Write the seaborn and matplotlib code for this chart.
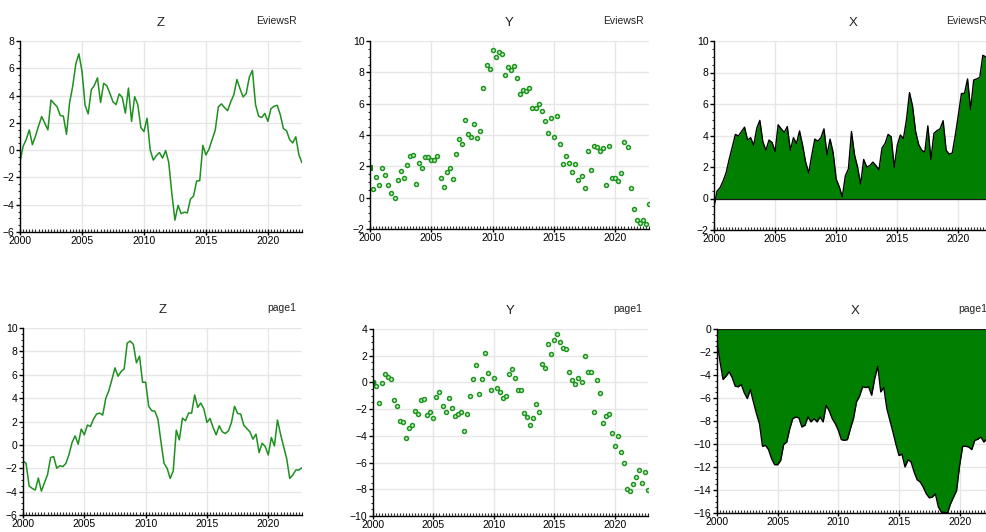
import numpy as np
import pandas as pd
import matplotlib
matplotlib.use('Agg')
import matplotlib.pyplot as plt
from matplotlib.ticker import MultipleLocator
import seaborn as sns

# quarterly index 2000Q1 .. 2022Q4
quarters = pd.period_range('2000Q1', '2022Q4', freq='Q')
t = np.asarray(quarters.year + (quarters.quarter - 1) / 4, dtype=float)

z_eviews = [-0.85, 0.28, 0.78, 1.48, 0.40, 1.03, 1.78, 2.46, 1.98, 1.48, 3.67, 3.42,
            3.17, 2.54, 2.49, 1.16, 3.47, 4.67, 6.30, 7.06, 5.80, 3.29, 2.66, 4.42,
            4.75, 5.30, 3.49, 4.90, 4.72, 4.17, 3.54, 3.34, 4.12, 3.87, 2.71, 4.55,
            2.11, 3.92, 3.34, 1.66, 1.36, 2.34, 0.03, -0.73, -0.40, -0.18, -0.58, -0.03,
            -0.90, -3.19, -5.13, -4.05, -4.65, -4.55, -4.60, -3.59, -3.37, -2.26, -2.24, 0.35,
            -0.35, 0.08, 0.78, 1.46, 3.17, 3.39, 3.12, 2.89, 3.54, 4.05, 5.18, 4.50,
            3.90, 4.15, 5.35, 5.85, 3.34, 2.49, 2.39, 2.69, 2.11, 3.04, 3.22, 3.29,
            2.59, 1.58, 1.43, 0.78, 0.53, 0.98, -0.35, -0.93]

y_eviews = [1.91, 0.54, 1.35, 0.84, 1.87, 1.44, 0.80, 0.30, 0.00, 1.10, 1.68, 1.23,
            2.09, 2.65, 2.73, 0.88, 2.19, 1.87, 2.60, 2.60, 2.39, 2.39, 2.67, 1.23,
            0.65, 1.63, 1.91, 1.16, 2.77, 3.76, 3.42, 4.95, 4.06, 3.89, 4.71, 3.83,
            4.24, 7.03, 8.45, 8.19, 9.44, 8.99, 9.29, 9.20, 7.83, 8.34, 8.15, 8.41,
            7.63, 6.60, 6.90, 6.82, 6.99, 5.72, 5.72, 5.96, 5.53, 4.92, 4.13, 5.10,
            3.87, 5.20, 3.42, 2.13, 2.65, 2.19, 1.66, 2.15, 1.14, 1.38, 0.62, 2.99,
            1.78, 3.31, 3.25, 2.97, 3.18, 0.82, 3.31, 1.23, 1.23, 1.08, 1.59, 3.55,
            3.25, 0.60, -0.71, -1.40, -1.59, -1.40, -1.68, -0.43]

x_eviews = [-0.50, 0.47, 0.69, 1.12, 1.66, 2.52, 3.28, 4.07, 3.97, 4.25, 4.53, 3.71,
            3.86, 3.38, 4.46, 4.96, 3.60, 3.06, 3.71, 3.56, 3.00, 4.68, 4.42, 4.20,
            4.57, 3.06, 3.86, 3.49, 4.29, 3.38, 2.31, 1.62, 2.74, 3.77, 3.64, 3.86,
            4.42, 2.78, 3.77, 2.91, 1.23, 0.75, 0.11, 1.44, 1.88, 4.25, 2.78, 1.98,
            0.91, 2.48, 2.00, 2.09, 2.31, 2.09, 1.83, 3.21, 3.49, 4.07, 3.92, 1.98,
            3.38, 4.03, 3.81, 5.00, 6.72, 5.86, 4.25, 3.43, 3.06, 2.95, 4.61, 2.48,
            4.14, 4.31, 4.42, 4.94, 3.06, 2.82, 2.89, 4.03, 5.32, 6.66, 6.68, 7.59,
            5.65, 7.52, 7.59, 7.69, 9.09, 8.99, 8.80, 8.50]

z_page1 = [-1.38, -1.58, -3.52, -3.72, -3.87, -2.84, -3.95, -3.24, -2.55, -1.09, -1.00, -2.00,
           -1.78, -1.86, -1.58, -0.83, 0.20, 0.77, 0.06, 1.35, 0.86, 1.69, 1.58, 2.21,
           2.64, 2.72, 2.55, 3.98, 4.64, 5.59, 6.59, 5.87, 6.28, 6.50, 8.71, 8.88,
           8.60, 7.02, 7.59, 5.36, 5.36, 3.30, 2.92, 2.89, 2.21, 0.26, -1.58, -2.00,
           -2.87, -2.24, 1.26, 0.43, 2.29, 2.06, 2.72, 2.72, 4.27, 3.21, 3.58, 3.07,
           1.92, 2.26, 1.49, 0.86, 1.63, 1.12, 0.97, 1.20, 1.92, 3.30, 2.69, 2.64,
           1.69, 1.40, 1.12, 0.49, 0.92, -0.66, 0.14, -0.14, -0.86, 0.63, -0.09, 2.12,
           0.92, -0.14, -1.17, -2.87, -2.58, -2.15, -2.15, -1.95]

y_page1 = [0.05, -0.25, -1.55, -0.05, 0.63, 0.40, 0.25, -1.35, -1.80, -2.88, -2.93, -4.15,
           -3.43, -3.15, -2.13, -2.33, -1.35, -1.25, -2.43, -2.25, -2.70, -1.10, -0.68, -1.73,
           -2.25, -1.13, -1.88, -2.55, -2.33, -2.25, -3.63, -2.38, -1.03, 0.25, 1.28, -0.83,
           0.23, 2.20, 0.73, -0.60, 0.35, -0.45, -0.75, -1.13, -0.98, 0.60, 0.98, 0.35,
           -0.55, -0.55, -2.28, -2.60, -3.15, -2.63, -1.60, -2.18, 1.35, 1.10, 2.85, 2.15,
           3.18, 3.65, 3.00, 2.55, 2.48, 0.75, 0.15, -0.15, 0.35, 0.03, 1.95, 0.75,
           0.75, -2.18, 0.15, -0.80, -3.00, -2.50, -2.35, -3.78, -4.78, -4.00, -5.20, -6.03,
           -8.00, -8.13, -7.63, -7.10, -6.55, -7.55, -6.68, -8.05]

x_page1 = [-1.10, -2.85, -4.39, -4.10, -3.72, -4.22, -4.97, -5.03, -4.83, -5.55, -6.05, -5.26,
           -6.34, -7.35, -8.23, -10.20, -10.12, -10.49, -11.28, -11.80, -11.80, -11.43, -10.03, -9.83,
           -8.66, -7.79, -7.65, -7.73, -8.52, -8.37, -7.65, -8.08, -7.79, -8.08, -7.65, -8.08,
           -6.63, -7.12, -7.79, -8.23, -8.81, -9.62, -9.68, -9.62, -8.66, -7.79, -6.34, -5.84,
           -5.03, -5.09, -5.03, -5.76, -4.30, -3.23, -5.47, -5.09, -6.92, -7.94, -8.95, -10.03,
           -10.99, -10.90, -12.00, -11.37, -11.57, -12.44, -13.11, -13.31, -13.75, -14.33, -14.68, -14.62,
           -14.33, -15.49, -15.93, -15.93, -16.00, -15.20, -14.62, -14.04, -11.86, -10.20, -10.20, -10.26,
           -10.49, -9.68, -9.59, -9.39, -9.83, -9.54, -9.30, -9.20]

titles = ['Z', 'Y', 'X']
sources = ['EviewsR', 'page1']
ylims = [[(-6, 8), (-2, 10), (-2, 10)], [(-6, 10), (-10, 4), (-16, 0)]]

# axes boxes in figure pixels: left, right, top, bottom
W, H = 987, 532
boxes = [[(20, 302, 41, 232), (370, 649, 41, 229), (714, 992, 41, 230)],
         [(23, 302, 328, 515), (373, 648, 329, 516), (717, 993, 329, 513)]]

LINE_GREEN = '#1f8f1f'
FILL_GREEN = '#007f00'

sns.set_style('ticks')
plt.rcParams['font.family'] = ['Liberation Sans', 'DejaVu Sans']

fig = plt.figure(figsize=(W / 100, H / 100), dpi=100)

data = [[z_eviews, y_eviews, x_eviews], [z_page1, y_page1, x_page1]]

for r in range(2):
    for c in range(3):
        l, rr, tp, bt = boxes[r][c]
        ax = fig.add_axes([l / W, 1 - bt / H, (rr - l) / W, (bt - tp) / H])
        df = pd.DataFrame({'t': t, 'v': data[r][c]})
        if c == 0:
            sns.lineplot(data=df, x='t', y='v', ax=ax, color=LINE_GREEN, linewidth=1.1)
        elif c == 1:
            sns.scatterplot(data=df.iloc[1:], x='t', y='v', ax=ax, s=8, marker='o',
                            facecolor='#d8f2d8', edgecolor='#1a961a', linewidth=1.1)
            first = df.iloc[:1]
            sns.scatterplot(data=first, x='t', y='v', ax=ax, s=18,
                            marker='s' if r == 0 else 'o', color='#138a13', linewidth=0)
        else:
            ax.fill_between(df['t'], 0, df['v'], color=FILL_GREEN, linewidth=0)
            sns.lineplot(data=df, x='t', y='v', ax=ax, color='black', linewidth=1.0)
            ax.axhline(0, color='#1a1a1a', linewidth=0.9)

        ax.set_xlim(2000, 2022.75)
        ax.set_ylim(*ylims[r][c])
        ax.set_xlabel('')
        ax.set_ylabel('')
        ax.xaxis.set_major_locator(MultipleLocator(5))
        ax.xaxis.set_minor_locator(MultipleLocator(0.25))
        ax.yaxis.set_major_locator(MultipleLocator(2))
        ax.yaxis.set_minor_locator(MultipleLocator(0.5))
        ax.grid(True, which='major', color='#e6e6e6', linewidth=1.0)
        ax.set_axisbelow(True)
        for s in ['top', 'right']:
            ax.spines[s].set_visible(False)
        for s in ['left', 'bottom']:
            ax.spines[s].set_color('black')
            ax.spines[s].set_linewidth(1.0)
        ax.tick_params(axis='x', which='major', direction='inout', length=4, width=1,
                       labelsize=7.5, pad=1, colors='black', bottom=True)
        ax.tick_params(axis='x', which='minor', direction='in', length=2.5, width=0.8,
                       bottom=True)
        ax.tick_params(axis='y', which='major', direction='out', length=3, width=1,
                       labelsize=7.5, pad=1, colors='black', left=True)
        ax.tick_params(axis='y', which='minor', direction='out', length=1.5, width=0.8,
                       left=True)
        ax.set_title(titles[c], fontsize=9.5, pad=11, color='#222222')
        ax.annotate(sources[r], xy=(1, 1), xycoords='axes fraction', xytext=(-4, 11),
                    textcoords='offset points', ha='right', va='bottom',
                    fontsize=7.5, color='#222222')

fig.savefig('out.png', dpi=100)
